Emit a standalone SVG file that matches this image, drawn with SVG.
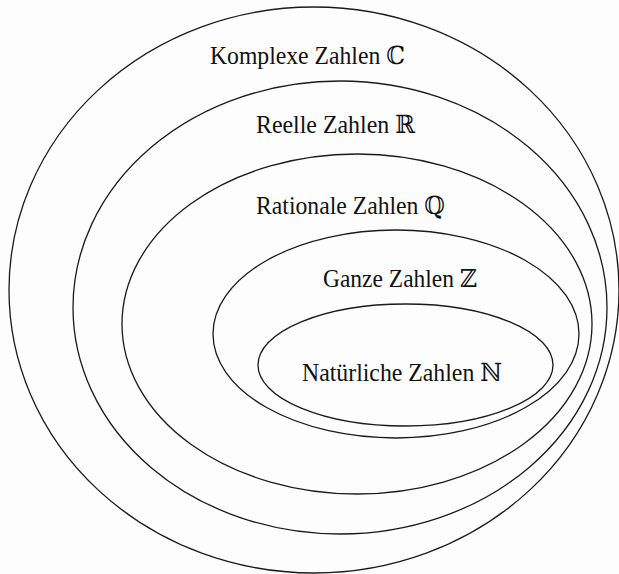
<svg xmlns="http://www.w3.org/2000/svg" width="619" height="574" viewBox="0 0 619 574">
<style>
.set{fill:none;stroke:#1a1a1a;stroke-width:1.3}
.lbl{font-family:"Liberation Serif","DejaVu Serif",serif;font-size:25px;fill:#111}
</style>
<rect width="619" height="574" fill="#fdfdfd"/>
<g id="complex">
<ellipse class="set" cx="314" cy="290" rx="305" ry="283"/>
<text class="lbl" x="210" y="64" textLength="195" lengthAdjust="spacingAndGlyphs">Komplexe Zahlen ℂ</text>
</g>
<g id="real">
<ellipse class="set" cx="340" cy="307.5" rx="267" ry="226.5"/>
<text class="lbl" x="256" y="133" textLength="159" lengthAdjust="spacingAndGlyphs">Reelle Zahlen ℝ</text>
</g>
<g id="rational">
<ellipse class="set" cx="357" cy="324" rx="235" ry="170"/>
<text class="lbl" x="256" y="214" textLength="189" lengthAdjust="spacingAndGlyphs">Rationale Zahlen ℚ</text>
</g>
<g id="integer">
<ellipse class="set" cx="396" cy="334" rx="183" ry="104"/>
<text class="lbl" x="323" y="287" textLength="154" lengthAdjust="spacingAndGlyphs">Ganze Zahlen ℤ</text>
</g>
<g id="natural">
<ellipse class="set" cx="405.5" cy="365" rx="147.5" ry="61"/>
<text class="lbl" x="302" y="381" textLength="200" lengthAdjust="spacingAndGlyphs">Natürliche Zahlen ℕ</text>
</g>
<g id="connectors"/>
</svg>
